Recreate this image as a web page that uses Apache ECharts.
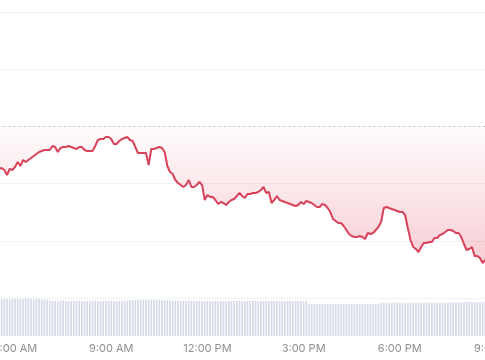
<!DOCTYPE html>
<html>
<head>
<meta charset="utf-8">
<script src="https://cdn.jsdelivr.net/npm/echarts@6/dist/echarts.min.js"></script>
<style>html,body{margin:0;padding:0;background:#fff;}#c{width:485px;height:360px;}</style>
</head>
<body>
<div id="c"></div>
<script>
// time slots: 5-minute steps from 5:30 AM to 9:00 PM
var startMinutes = 5 * 60 + 30;
var endMinutes = 21 * 60;
var stepMinutes = 5;
var tickLabels = ['6:00 AM', '9:00 AM', '12:00 PM', '3:00 PM', '6:00 PM', '9:00 PM'];
var prevClose = 130;

var priceValues = [
122.55,122.73,122.38,121.50,122.55,122.38,122.90,123.78,123.08,124.13,
123.78,124.13,124.48,124.83,125.17,125.52,125.70,125.87,125.87,125.87,
126.57,126.40,125.52,126.22,126.40,126.40,126.57,126.40,126.22,126.05,
126.40,126.40,125.87,125.70,125.70,125.70,126.57,127.62,127.80,127.80,
128.15,128.15,127.80,126.92,126.92,127.45,127.80,127.97,128.15,127.62,
127.45,126.40,125.35,125.35,125.35,125.35,123.25,126.05,126.05,126.22,
126.40,126.22,125.52,123.08,122.03,121.68,120.63,120.10,119.76,119.41,
119.76,120.63,119.41,119.41,119.76,120.28,119.76,117.13,118.01,117.66,
117.66,117.13,116.43,116.78,116.61,116.26,116.78,117.13,117.31,117.83,
118.36,117.83,117.48,118.18,118.18,118.36,118.36,118.53,118.88,119.41,
118.36,118.53,116.61,117.13,117.83,117.13,116.96,116.78,116.61,116.43,
116.26,116.08,116.26,116.78,116.43,116.96,116.78,116.61,116.26,115.91,
115.91,116.43,116.26,115.73,115.03,113.81,113.46,113.11,113.11,112.59,
111.89,111.19,110.84,110.66,110.66,110.84,110.66,110.31,111.36,111.19,
111.36,111.89,112.41,113.29,115.73,115.91,115.73,115.56,115.38,115.21,
115.03,115.03,114.51,112.24,110.14,108.92,108.57,108.04,108.92,109.62,
109.62,109.79,109.79,110.49,110.49,111.01,111.19,111.54,111.89,111.89,
111.71,111.36,111.36,110.66,109.44,108.39,108.57,108.92,107.34,107.34,
106.99,106.12,106.64
];

var volumeValues = [
95,94,96,95,94,95,96,95,94,95,95,96,95,94,95,95,94,93,92,
91,90,90,89,90,91,90,89,90,90,91,90,89,90,90,89,90,91,90,90,89,90,90,91,90,89,90,90,91,91,92,92,92,93,93,92,92,93,
93,93,92,93,93,92,92,91,91,90,91,90,90,90,91,90,89,90,90,
90,89,90,90,89,90,90,90,89,90,90,89,90,90,90,90,89,90,90,90,90,89,90,90,90,89,90,90,90,89,90,89,90,90,89,90,90,89,90,90,
82,82,82,81,82,82,82,81,82,82,82,82,81,82,82,82,82,81,82,82,82,82,82,82,81,82,82,
85,85,85,84,85,85,85,85,84,85,85,85,85,85,84,85,85,85,85,85,84,85,85,85,85,85,
87,87,87,87,86,87,87,87,87,87,87,86,87,87
];

var categories = [];
for (var m = startMinutes; m <= endMinutes; m += stepMinutes) {
  var h = Math.floor(m / 60), mm = m % 60;
  var ap = h >= 12 ? 'PM' : 'AM';
  var h12 = h % 12 === 0 ? 12 : h % 12;
  categories.push(h12 + ':' + (mm < 10 ? '0' : '') + mm + ' ' + ap);
}

var chart = echarts.init(document.getElementById('c'), null, {renderer: 'canvas'});
var lineColor = '#d8425a';
chart.setOption({
  animation: false,
  backgroundColor: '#ffffff',
  grid: [
    {left: -1, right: -11, top: 12, bottom: 62, containLabel: false, outerBoundsMode: 'none'},
    {left: -1, right: -11, top: 297, bottom: 24, containLabel: false, outerBoundsMode: 'none'}
  ],
  xAxis: [
    {type: 'category', gridIndex: 0, data: categories, boundaryGap: false,
     axisLine: {show: false}, axisTick: {show: false}, axisLabel: {show: false}, splitLine: {show: false}},
    {type: 'category', gridIndex: 1, data: categories, boundaryGap: false,
     axisLine: {show: false}, axisTick: {show: false}, splitLine: {show: false},
     axisLabel: {
       show: true, margin: 7, color: '#8d8f94', fontSize: 11, fontFamily: 'Inter, Roboto, sans-serif',
       interval: function (idx, val) { return tickLabels.indexOf(val) >= 0; }
     }}
  ],
  yAxis: [
    {type: 'value', gridIndex: 0, min: 100, max: 150, interval: 10,
     axisLine: {show: false}, axisTick: {show: false}, axisLabel: {show: false},
     splitLine: {show: true, lineStyle: {color: '#f3f3f3', width: 1}}},
    {type: 'value', gridIndex: 1, min: 0, max: 100,
     axisLine: {show: false}, axisTick: {show: false}, axisLabel: {show: false}, splitLine: {show: false}}
  ],
  series: [
    {
      type: 'bar', xAxisIndex: 1, yAxisIndex: 1, data: volumeValues,
      barWidth: 1.7, itemStyle: {color: '#d6dbea'}, silent: true
    },
    {
      type: 'line', xAxisIndex: 0, yAxisIndex: 0, data: priceValues,
      showSymbol: false, smooth: false,
      lineStyle: {color: lineColor, width: 2},
      areaStyle: {
        origin: prevClose,
        color: new echarts.graphic.LinearGradient(0, 0, 0, 1, [
          {offset: 0, color: 'rgba(226,60,85,0.02)'},
          {offset: 1, color: 'rgba(226,60,85,0.36)'}
        ])
      },
      markLine: {
        silent: true, symbol: 'none', label: {show: false},
        lineStyle: {type: [1, 4], color: '#a9a9a9', width: 1},
        data: [{yAxis: prevClose}]
      }
    }
  ]
});
</script>
</body>
</html>
